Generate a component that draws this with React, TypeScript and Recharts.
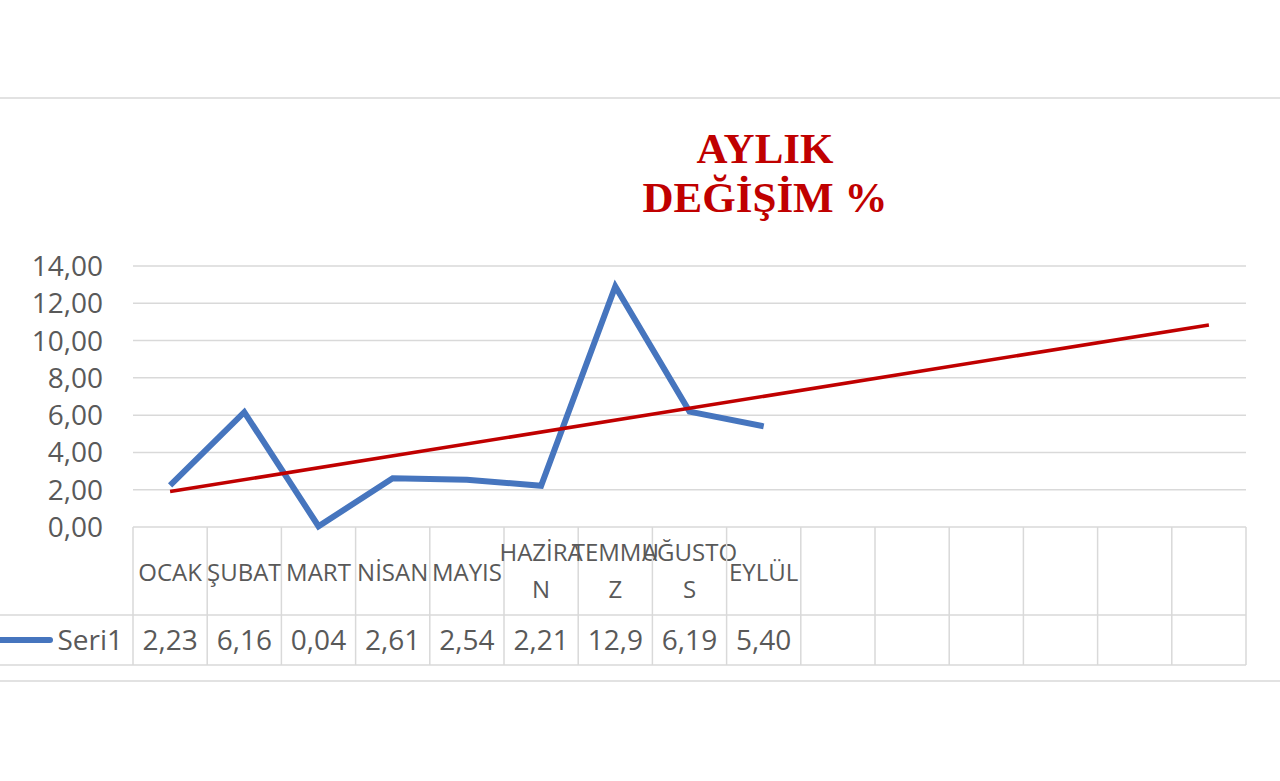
import React from "react";
import { LineChart, Line, XAxis, YAxis, CartesianGrid } from "recharts";

// ---- data ----
const months = [
  "OCAK", "ŞUBAT", "MART", "NİSAN", "MAYIS", "HAZİRAN", "TEMMUZ", "AĞUSTOS", "EYLÜL",
  "", "", "", "", "", "",
];
const tickLabelLines: string[][] = [
  ["OCAK"], ["ŞUBAT"], ["MART"], ["NİSAN"], ["MAYIS"],
  ["HAZİRA", "N"], ["TEMMU", "Z"], ["AĞUSTO", "S"], ["EYLÜL"],
  [], [], [], [], [], [],
];
const seri1: (number | null)[] = [2.23, 6.16, 0.04, 2.61, 2.54, 2.21, 12.9, 6.19, 5.4, null, null, null, null, null, null];
const seri1Labels = ["2,23", "6,16", "0,04", "2,61", "2,54", "2,21", "12,9", "6,19", "5,40", "", "", "", "", "", ""];
// trend line read at its two ends
const trend: (number | null)[] = [1.9, null, null, null, null, null, null, null, null, null, null, null, null, null, 10.84];
const yTicks = [0, 2, 4, 6, 8, 10, 12, 14];
const titleLines = ["AYLIK", "DEĞİŞİM %"];
const seriesName = "Seri1";

const data = months.map((m, i) => ({ ay: m, seri1: seri1[i], trend: trend[i] }));

// ---- layout ----
const W = 1280;
const H = 781;
const PLOT_LEFT = 133;
const PLOT_RIGHT = 1246;
const PLOT_TOP = 266;
const PLOT_BOTTOM = 527;
const X_AXIS_H = 140;
const BW = (PLOT_RIGHT - PLOT_LEFT) / months.length;
const GRID = "#d9d9d9";
const TEXT = "#595959";
const FONT = "'Open Sans', sans-serif";
const BLUE = "#4675BE";

const TableTick = (props: any) => {
  const { x, y, index } = props;
  const left = x - BW / 2;
  const lines = tickLabelLines[index] || [];
  const rowSplit = y + 88;
  const tableBottom = y + 138;
  return (
    <g>
      <line x1={left} x2={left} y1={y} y2={tableBottom} stroke={GRID} strokeWidth={1.5} />
      {index === months.length - 1 && (
        <line x1={left + BW} x2={left + BW} y1={y} y2={tableBottom} stroke={GRID} strokeWidth={1.5} />
      )}
      {index === 0 && (
        <g>
          <line x1={0} x2={PLOT_RIGHT} y1={rowSplit} y2={rowSplit} stroke={GRID} strokeWidth={1.5} />
          <line x1={0} x2={PLOT_RIGHT} y1={tableBottom} y2={tableBottom} stroke={GRID} strokeWidth={1.5} />
          <line x1={0} x2={50} y1={y + 113} y2={y + 113} stroke={BLUE} strokeWidth={6} strokeLinecap="round" />
          <text x={left - 10} y={y + 113} dy="0.35em" textAnchor="end" fontFamily={FONT} fontSize={28} fill={TEXT}>
            {seriesName}
          </text>
        </g>
      )}
      {lines.length === 1 && (
        <text x={x} y={y + 46} dy="0.35em" textAnchor="middle" fontFamily={FONT} fontSize={24} fill={TEXT}>
          {lines[0]}
        </text>
      )}
      {lines.length === 2 && (
        <g>
          <text x={x} y={y + 26} dy="0.35em" textAnchor="middle" fontFamily={FONT} fontSize={24} fill={TEXT}>
            {lines[0]}
          </text>
          <text x={x} y={y + 63} dy="0.35em" textAnchor="middle" fontFamily={FONT} fontSize={24} fill={TEXT}>
            {lines[1]}
          </text>
        </g>
      )}
      <text x={x} y={y + 113} dy="0.35em" textAnchor="middle" fontFamily={FONT} fontSize={28} fill={TEXT}>
        {seri1Labels[index]}
      </text>
    </g>
  );
};

export default function App() {
  return (
    <div style={{ position: "absolute", left: 0, top: 0, width: W, height: H, background: "#fff" }}>
      <LineChart
        width={W}
        height={H}
        data={data}
        margin={{ top: PLOT_TOP, right: W - PLOT_RIGHT, bottom: H - PLOT_BOTTOM - X_AXIS_H, left: 0 }}
      >
        <CartesianGrid vertical={false} stroke={GRID} strokeWidth={1.5} />
        <XAxis
          dataKey="ay"
          padding={{ left: BW / 2, right: BW / 2 }}
          height={X_AXIS_H}
          axisLine={false}
          tickLine={false}
          tickSize={0}
          tickMargin={0}
          interval={0}
          tick={<TableTick />}
        />
        <YAxis
          width={PLOT_LEFT}
          domain={[0, 14]}
          ticks={yTicks}
          axisLine={false}
          tickLine={false}
          tickSize={0}
          tickMargin={30}
          tick={{ fontFamily: FONT, fontSize: 28, fill: TEXT }}
          tickFormatter={(v: number) => v.toFixed(2).replace(".", ",")}
        />
        <Line
          type="linear"
          dataKey="seri1"
          stroke={BLUE}
          strokeWidth={6}
          dot={false}
          activeDot={false}
          isAnimationActive={false}
        />
        <Line
          type="linear"
          dataKey="trend"
          stroke="#C00000"
          strokeWidth={3.5}
          dot={false}
          activeDot={false}
          connectNulls
          isAnimationActive={false}
        />
      </LineChart>
      <svg width={W} height={H} style={{ position: "absolute", left: 0, top: 0, pointerEvents: "none" }}>
        <line x1={0} x2={W} y1={98} y2={98} stroke={GRID} strokeWidth={1.5} />
        <line x1={0} x2={W} y1={681} y2={681} stroke={GRID} strokeWidth={1.5} />
        <text x={765} y={163} textAnchor="middle" fontFamily="'Liberation Serif', serif" fontWeight="bold" fontSize={43} fill="#C00000">
          {titleLines[0]}
        </text>
        <text x={765} y={212} textAnchor="middle" fontFamily="'Liberation Serif', serif" fontWeight="bold" fontSize={43} fill="#C00000">
          {titleLines[1]}
        </text>
      </svg>
    </div>
  );
}
